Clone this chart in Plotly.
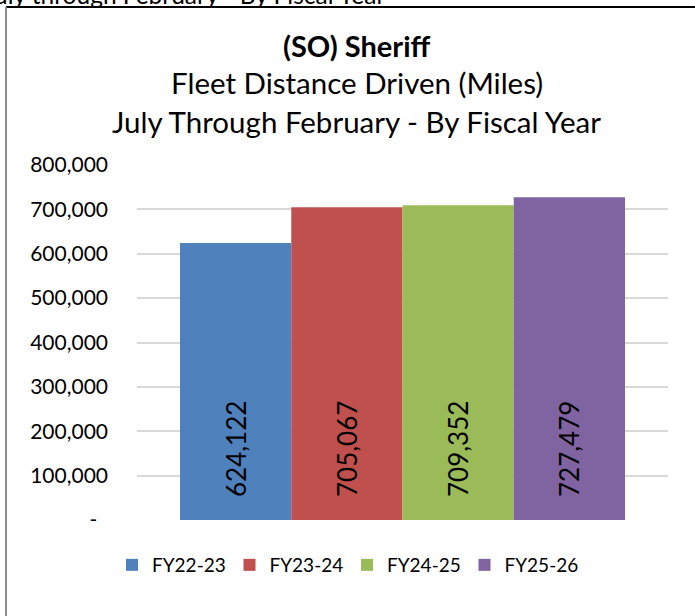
import plotly.graph_objects as go

categories = ["FY22-23", "FY23-24", "FY24-25", "FY25-26"]
miles = [624122, 705067, 709352, 727479]
colors = ["#4F81BD", "#C0504D", "#9BBB59", "#8064A2"]
tick_vals = [0, 100000, 200000, 300000, 400000, 500000, 600000, 700000, 800000]
tick_text = ["-\u00a0\u00a0", "100,000", "200,000", "300,000", "400,000",
             "500,000", "600,000", "700,000", "800,000"]

FONT = "Lato"
W, H = 695, 616
L, R, T, B = 137, 27, 165, 96
pw, ph = W - L - R, H - T - B

def px(x):
    return (x - L) / pw

def py(y):
    return (H - B - y) / ph

fig = go.Figure()
for cat, val, col in zip(categories, miles, colors):
    fig.add_trace(go.Bar(
        x=[""], y=[val], name=cat,
        marker=dict(color=col, line=dict(width=0)),
        text=["\u00a0\u00a0\u00a0" + f"{val:,}"],
        textposition="inside", insidetextanchor="start", textangle=-90,
        textfont=dict(family=FONT, size=26, color="black"),
        hoverinfo="skip",
    ))

fig.update_layout(
    width=W, height=H,
    margin=dict(l=L, r=R, t=T, b=B, autoexpand=False),
    paper_bgcolor="white", plot_bgcolor="white",
    barmode="group", bargap=0.162, bargroupgap=0,
    font=dict(family=FONT, color="black"),
    showlegend=True,
    legend=dict(orientation="h", x=px(112), xanchor="left", y=py(565), yanchor="middle",
                font=dict(family=FONT, size=19, color="black"), traceorder="normal",
                itemwidth=30, entrywidth=72.5),
    xaxis=dict(showticklabels=False, showgrid=False, zeroline=False, showline=False),
    yaxis=dict(range=[0, 800000], tickvals=tick_vals, ticktext=tick_text,
               showgrid=True, gridcolor="#D9D9D9", gridwidth=2, zeroline=False,
               showline=False, ticks="", ticklabelstandoff=28,
               tickfont=dict(family=FONT, size=21, color="black")),
)

def title_line(text, x, y, size):
    fig.add_annotation(text=text, x=px(x), y=py(y), xref="paper", yref="paper",
                       xanchor="center", yanchor="middle", showarrow=False,
                       font=dict(family=FONT, size=size, color="black"))

title_line("<b>(SO) Sheriff</b>", 357, 45, 29)
title_line("Fleet Distance Driven (Miles)", 357, 82, 29.5)
title_line("July Through February - By Fiscal Year", 356, 122, 29.5)

fig.add_annotation(text="July through February - By Fiscal Year", x=px(-18), y=py(-6),
                   xref="paper", yref="paper", xanchor="left", yanchor="middle",
                   showarrow=False, font=dict(family=FONT, size=24.5, color="black"))

fig.add_shape(type="line", xref="paper", yref="paper", x0=px(6), x1=px(700), y0=py(7), y1=py(7),
              line=dict(color="black", width=2))
fig.add_shape(type="line", xref="paper", yref="paper", x0=px(6), x1=px(6), y0=py(7), y1=py(640),
              line=dict(color="#8C8C8C", width=2))

fig.write_html("out.html", config={"displayModeBar": False},
               post_script="document.body.style.margin='0';document.body.style.padding='0';")
